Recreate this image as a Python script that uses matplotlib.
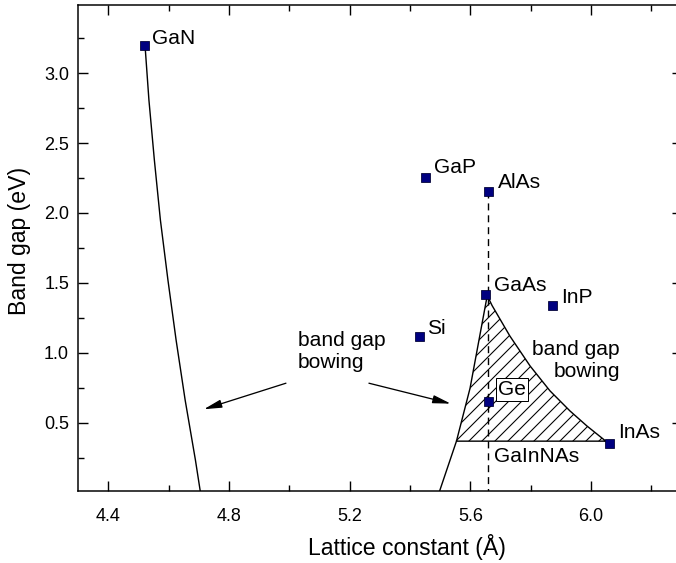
import matplotlib
matplotlib.use("Agg")
import matplotlib.pyplot as plt
from matplotlib.ticker import MultipleLocator

plt.rcParams['font.family'] = ['Liberation Sans', 'DejaVu Sans']
plt.rcParams['hatch.linewidth'] = 1.0
plt.rcParams['hatch.color'] = 'black'

# binary compounds: lattice constant (A) and band gap (eV)
materials = ['GaN', 'GaP', 'AlAs', 'GaAs', 'InP', 'Si', 'Ge', 'InAs']
lattice = [4.52, 5.45, 5.66, 5.65, 5.87, 5.43, 5.66, 6.06]
gap = [3.20, 2.26, 2.16, 1.42, 1.34, 1.12, 0.66, 0.36]

# GaN -> nitride alloy curve
gan_a = [4.522, 4.535, 4.553, 4.573, 4.598, 4.625, 4.655, 4.689, 4.706]
gan_eg = [3.20, 2.807, 2.379, 1.950, 1.521, 1.093, 0.664, 0.236, 0.0]

# GaAs -> GaInNAs curve (left edge)
nas_a = [5.656, 5.599, 5.554, 5.496]
nas_eg = [1.41, 0.748, 0.37, 0.0]

# GaAs -> InAs bowing curve
bow_a = [5.656, 5.672, 5.731, 5.798, 5.864, 5.930, 5.986, 6.046, 6.057]
bow_eg = [1.41, 1.339, 1.121, 0.907, 0.729, 0.586, 0.479, 0.375, 0.37]

DPI = 78
fig = plt.figure(figsize=(676 / DPI, 563 / DPI), dpi=DPI)
ax = fig.add_axes([78 / 676, 72.3 / 563, 603.6 / 676, 485.7 / 563])

def pt(px):
    return px * 72 / DPI

# hatched region
poly_a = nas_a[:3] + bow_a[::-1]
poly_eg = nas_eg[:3] + bow_eg[::-1]
ax.fill(poly_a, poly_eg, facecolor='none', edgecolor='black', hatch='//',
        linewidth=pt(1.4), zorder=2)
ax.plot(nas_a[2:], nas_eg[2:], color='black', lw=pt(1.4), zorder=2)
ax.plot(gan_a, gan_eg, color='black', lw=pt(1.4), zorder=2)

# dashed line through AlAs / Ge lattice constant
i_alas = materials.index('AlAs')
ax.plot([lattice[i_alas]] * 2, [gap[i_alas], 0], color='black', lw=pt(1.4),
        dashes=(5, 3.5), zorder=2)

ax.plot(lattice, gap, linestyle='none', marker='s', markersize=pt(9),
        markerfacecolor='#000080', markeredgecolor='#000033',
        markeredgewidth=pt(0.8), zorder=4)

fs_txt = pt(21)
offsets = {'GaN': (8, 7), 'GaP': (9, 9), 'AlAs': (10, 8), 'GaAs': (9, 9),
           'InP': (9, 8), 'Si': (8, 8), 'InAs': (9, 10)}
for name, a, eg in zip(materials, lattice, gap):
    if name == 'Ge':
        ax.annotate(name, (a, eg), xytext=(pt(10), pt(11)),
                    textcoords='offset points', fontsize=fs_txt,
                    va='center', ha='left',
                    bbox=dict(boxstyle='square,pad=0.1', fc='white',
                              ec='black', lw=pt(1.0)), zorder=5)
    else:
        dx, dy = offsets[name]
        ax.annotate(name, (a, eg), xytext=(pt(dx), pt(dy)),
                    textcoords='offset points', fontsize=fs_txt,
                    va='center', ha='left', zorder=5)

ax.text(5.678, 0.259, 'GaInNAs', fontsize=fs_txt, ha='left', va='center')
ax.text(6.096, 0.948, 'band gap\nbowing', fontsize=fs_txt, ha='right',
        va='center', multialignment='right', linespacing=1.2)
ax.text(5.029, 1.014, 'band gap\nbowing', fontsize=fs_txt, ha='left',
        va='center', multialignment='left', linespacing=1.2)

arrow = dict(arrowstyle='-|>,head_length=0.75,head_width=0.17',
             color='black', lw=pt(1.3), shrinkA=0, shrinkB=0,
             mutation_scale=pt(20))
ax.annotate('', xy=(4.717, 0.598), xytext=(4.989, 0.784), arrowprops=arrow)
ax.annotate('', xy=(5.535, 0.638), xytext=(5.264, 0.784), arrowprops=arrow)

ax.set_xlim(4.3, 6.3)
ax.set_ylim(0.016, 3.486)
ax.xaxis.set_major_locator(MultipleLocator(0.4))
ax.xaxis.set_minor_locator(MultipleLocator(0.2))
ax.yaxis.set_major_locator(MultipleLocator(0.5))
ax.yaxis.set_minor_locator(MultipleLocator(0.25))
ax.xaxis.set_major_formatter(plt.FuncFormatter(lambda v, p: f'{v:.1f}'))
ax.yaxis.set_major_formatter(plt.FuncFormatter(lambda v, p: f'{v:.1f}'))
ax.tick_params(which='both', direction='in', top=True, right=True,
               width=pt(1.4), labelsize=pt(18))
ax.tick_params(which='major', length=pt(10))
ax.tick_params(which='minor', length=pt(6))
ax.tick_params(axis='x', pad=pt(17))
ax.tick_params(axis='y', pad=pt(9))
for s in ax.spines.values():
    s.set_linewidth(pt(1.5))

ax.set_xlabel('Lattice constant (Å)', fontsize=pt(23))
ax.set_ylabel('Band gap (eV)', fontsize=pt(23))
ax.xaxis.set_label_coords((407 - 78) / 603.6, -(534 - 490.7) / 485.7)
ax.yaxis.set_label_coords(-(78 - 31) / 603.6, 0.515)

fig.savefig('out.png', dpi=DPI)
